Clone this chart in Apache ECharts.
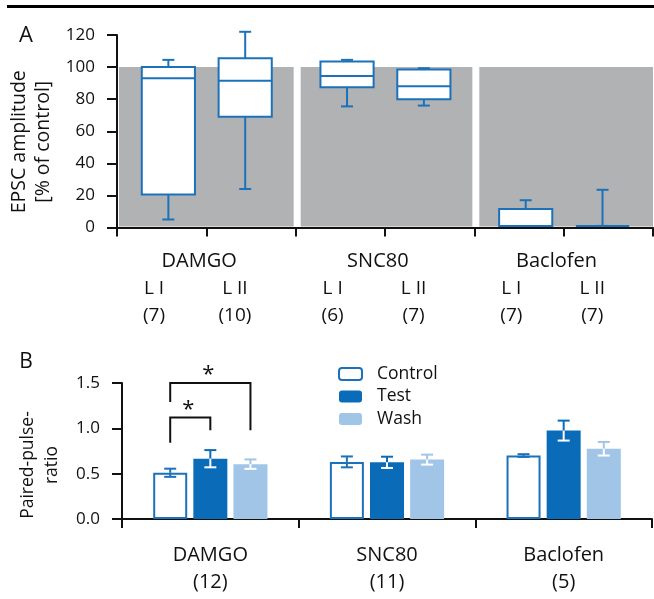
<!DOCTYPE html>
<html><head><meta charset="utf-8">
<script src="https://cdn.jsdelivr.net/npm/echarts@6/dist/echarts.min.js"></script>
<style>html,body{margin:0;padding:0;background:#fff}#c{width:654px;height:599px}</style>
</head><body><div id="c"></div>
<script>
// ---------------- data ----------------
// Panel A: EPSC amplitude (% of control), box plots
const groupsA = ['DAMGO', 'SNC80', 'Baclofen'];
const layersA = ['L I', 'L II'];
const countsA = [[7, 10], [6, 7], [7, 7]];
// [min, q1, median, q3, max]
const boxDAMGO = [[5, 20.5, 93, 100, 104.5], [24, 69, 91.5, 105.5, 122]];
const boxSNC80 = [[75.5, 87.5, 94.5, 103.5, 104.5], [76, 80, 88, 98.5, 99.3]];
const boxBaclofen = [[1, 1, 1, 11.5, 17], [1, 1, 1, 1, 23.5]];
const controlLevelA = 100;
const yTicksA = { min: 0, max: 120, interval: 20 };

// Panel B: paired-pulse ratio, mean +/- error
const groupsB = ['DAMGO', 'SNC80', 'Baclofen'];
const countsB = [12, 11, 5];
const conditionsB = ['Control', 'Test', 'Wash'];
const controlB = [0.51, 0.63, 0.70];
const controlErrB = [0.045, 0.06, 0.015];
const testB = [0.665, 0.625, 0.975];
const testErrB = [0.095, 0.062, 0.11];
const washB = [0.605, 0.655, 0.775];
const washErrB = [0.052, 0.055, 0.075];
// significance brackets: [group, fromCondition, toCondition, top, leftFoot, rightFoot]
const bracketsB = [[0, 0, 1, 1.12, 0.84, 0.98], [0, 0, 2, 1.5, 1.29, 0.98]];
const bracketMarksB = ['*', '*'];
const yTicksB = { min: 0, max: 1.5, interval: 0.5 };

// ---------------- style / layout ----------------
const FONT = 'Open Sans';
const INK = '#111';
const BLUE = '#1b72ba';
const TEST_C = '#0a6cb8';
const WASH_C = '#a0c5e6';
const GRAY = '#b1b2b4';
const boxOffsets = [0.575, 1.435];
const boxWidthU = 0.595;
const capHalf = 6;
const layerLabelOffsets = [0.414, 1.32];
const groupLabelOffset = 0.92;
const rowOffsetsA = [33.5, 61, 88];
const BAR_W = 34, BAR_GAP = 0.18;
const BAR_STEP = BAR_W * (1 + BAR_GAP);

const boxesA = [boxDAMGO, boxSNC80, boxBaclofen];
const boxData = [];
groupsA.forEach((g, gi) => layersA.forEach((l, li) => {
  boxData.push([gi * 2 + boxOffsets[li]].concat(boxesA[gi][li]));
}));
const bandData = groupsA.map((g, gi) => [gi * 2, gi * 2 + 2, controlLevelA]);
const labelItemsA = [];
groupsA.forEach((g, gi) => {
  labelItemsA.push({ x: gi * 2 + groupLabelOffset, row: 0, text: g, size: 20 });
  layersA.forEach((l, li) => {
    labelItemsA.push({ x: gi * 2 + layerLabelOffsets[li], row: 1, text: l, size: 19 });
    labelItemsA.push({ x: gi * 2 + layerLabelOffsets[li], row: 2, text: '(' + countsA[gi][li] + ')', size: 19 });
  });
});

const meansB = [controlB, testB, washB];
const errsB = [controlErrB, testErrB, washErrB];
const errUp = [BLUE, TEST_C, WASH_C];
const errDown = [BLUE, '#ffffff', '#ffffff'];
const errData = [];
conditionsB.forEach((c, s) => groupsB.forEach((g, gi) => errData.push([gi, s, meansB[s][gi], errsB[s][gi]])));

function line(x1, y1, x2, y2, color, w) {
  return { type: 'line', shape: { x1, y1, x2, y2 }, style: { stroke: color, lineWidth: w || 2 } };
}
function txt(x, y, text, size) {
  return { type: 'text', x, y, style: { text, fill: INK, fontSize: size, fontFamily: FONT, align: 'center', verticalAlign: 'middle' } };
}

const chart = echarts.init(document.getElementById('c'), null, { renderer: 'canvas' });
const axisLine = { show: true, lineStyle: { color: INK, width: 2 } };
const axisTick = (len) => ({ show: true, inside: false, length: len, lineStyle: { color: INK, width: 2 } });

chart.setOption({
  backgroundColor: '#fff',
  animation: false,
  textStyle: { fontFamily: FONT },
  graphic: [
    { type: 'rect', shape: { x: 7, y: 5, width: 647, height: 3 }, style: { fill: '#000' } },
    { type: 'text', x: 26, y: 36, style: { text: 'A', fontSize: 22, fontFamily: FONT, fill: INK, align: 'center', verticalAlign: 'middle' } },
    { type: 'text', x: 26, y: 362, style: { text: 'B', fontSize: 21, fontFamily: FONT, fill: INK, align: 'center', verticalAlign: 'middle' } }
  ],
  grid: [
    { left: 117, right: 1, top: 35, height: 192.5, containLabel: false, outerBoundsMode: 'none' },
    { left: 122, right: 2, top: 383, height: 136, containLabel: false, outerBoundsMode: 'none' }
  ],
  legend: {
    data: conditionsB, orient: 'vertical', left: 338, top: 365, padding: 0,
    itemWidth: 23, itemHeight: 12, itemGap: 4.5,
    textStyle: { fontSize: 17.5, fontFamily: FONT, color: INK, lineHeight: 18, padding: [0, 0, 0, 10] }
  },
  xAxis: [
    { gridIndex: 0, type: 'value', min: 0, max: 6, interval: 1, axisLine, axisTick: axisTick(9), axisLabel: { show: false }, splitLine: { show: false } },
    { gridIndex: 1, type: 'category', data: groupsB.map((g, i) => g + '\n(' + countsB[i] + ')'), axisLine, axisTick: axisTick(9),
      axisLabel: { color: INK, fontSize: 20, fontFamily: FONT, lineHeight: 27, margin: 23, interval: 0 }, splitLine: { show: false } }
  ],
  yAxis: [
    { gridIndex: 0, type: 'value', min: yTicksA.min, max: yTicksA.max, interval: yTicksA.interval, axisLine, axisTick: axisTick(10),
      axisLabel: { color: INK, fontSize: 17, fontFamily: FONT, margin: 22 }, splitLine: { show: false },
      name: 'EPSC amplitude\n[% of control]', nameLocation: 'middle', nameRotate: 90, nameGap: 54,
      nameTextStyle: { color: INK, fontSize: 19.5, fontFamily: FONT, lineHeight: 24, padding: [0, 21, 0, 0] } },
    { gridIndex: 1, type: 'value', min: yTicksB.min, max: yTicksB.max, interval: yTicksB.interval, axisLine, axisTick: axisTick(10),
      axisLabel: { color: INK, fontSize: 17, fontFamily: FONT, margin: 22, formatter: v => v.toFixed(1) }, splitLine: { show: false },
      name: 'Paired-pulse-\nratio', nameLocation: 'middle', nameRotate: 90, nameGap: 58,
      nameTextStyle: { color: INK, fontSize: 17.5, fontFamily: FONT, lineHeight: 24, padding: [0, 28, 0, 0] } }
  ],
  series: [
    { type: 'custom', name: 'band', xAxisIndex: 0, yAxisIndex: 0, encode: { x: [0, 1], y: 2 }, data: bandData, silent: true, z: 1,
      renderItem: (params, api) => {
        const gi = params.dataIndex;
        const p1 = api.coord([api.value(0), api.value(2)]);
        const p2 = api.coord([api.value(1), 0]);
        const l = p1[0] + (gi === 0 ? 2 : 5);
        const r = p2[0] - (gi === groupsA.length - 1 ? 0 : 2);
        return { type: 'rect', shape: { x: l, y: p1[1], width: r - l, height: p2[1] - 1 - p1[1] }, style: { fill: GRAY } };
      } },
    { type: 'custom', name: 'boxes', xAxisIndex: 0, yAxisIndex: 0, encode: { x: 0, y: [1, 2, 3, 4, 5] }, data: boxData, z: 3,
      renderItem: (params, api) => {
        const x = api.value(0);
        const y = [1, 2, 3, 4, 5].map(i => api.coord([x, api.value(i)])[1]);
        const cx = api.coord([x, 0])[0];
        const hw = api.size([boxWidthU, 0])[0] / 2;
        return { type: 'group', children: [
          line(cx, y[3], cx, y[4], BLUE), line(cx - capHalf, y[4], cx + capHalf, y[4], BLUE),
          line(cx, y[1], cx, y[0], BLUE), line(cx - capHalf, y[0], cx + capHalf, y[0], BLUE),
          { type: 'rect', shape: { x: cx - hw, y: y[3], width: hw * 2, height: y[1] - y[3] }, style: { fill: '#fff', stroke: BLUE, lineWidth: 2 } },
          line(cx - hw, y[2], cx + hw, y[2], BLUE)
        ] };
      } },
    { type: 'custom', name: 'labelsA', xAxisIndex: 0, yAxisIndex: 0, encode: { x: 0 }, data: labelItemsA.map(d => [d.x, d.row]), silent: true,
      renderItem: (params, api) => {
        const d = labelItemsA[params.dataIndex];
        const p = api.coord([d.x, 0]);
        return txt(p[0], p[1] + rowOffsetsA[d.row], d.text, d.size);
      } },
    { type: 'bar', name: 'Control', xAxisIndex: 1, yAxisIndex: 1, data: controlB, barWidth: BAR_W, barGap: (BAR_GAP * 100) + '%',
      itemStyle: { color: '#fff', borderColor: BLUE, borderWidth: 2 } },
    { type: 'bar', name: 'Test', xAxisIndex: 1, yAxisIndex: 1, data: testB, barWidth: BAR_W, barGap: (BAR_GAP * 100) + '%',
      itemStyle: { color: TEST_C } },
    { type: 'bar', name: 'Wash', xAxisIndex: 1, yAxisIndex: 1, data: washB, barWidth: BAR_W, barGap: (BAR_GAP * 100) + '%',
      itemStyle: { color: WASH_C } },
    { type: 'custom', name: 'errors', xAxisIndex: 1, yAxisIndex: 1, encode: { x: 0, y: 2 }, data: errData, z: 4, silent: true,
      renderItem: (params, api) => {
        const g = api.value(0), s = api.value(1), m = api.value(2), e = api.value(3);
        const pm = api.coord([g, m]);
        const cx = pm[0] + (s - 1) * BAR_STEP;
        const yT = api.coord([g, m + e])[1], yB = api.coord([g, m - e])[1];
        return { type: 'group', children: [
          line(cx, pm[1], cx, yT, errUp[s]), line(cx - capHalf, yT, cx + capHalf, yT, errUp[s]),
          line(cx, pm[1], cx, yB, errDown[s]), line(cx - capHalf, yB, cx + capHalf, yB, errDown[s])
        ] };
      } },
    { type: 'custom', name: 'brackets', xAxisIndex: 1, yAxisIndex: 1, encode: { x: 0, y: 3 }, data: bracketsB, z: 4, silent: true,
      renderItem: (params, api) => {
        const g = api.value(0), a = api.value(1), b = api.value(2);
        const top = api.coord([g, api.value(3)]);
        const xl = top[0] + (a - 1) * BAR_STEP, xr = top[0] + (b - 1) * BAR_STEP;
        const yl = api.coord([g, api.value(4)])[1], yr = api.coord([g, api.value(5)])[1];
        return { type: 'group', children: [
          { type: 'polyline', shape: { points: [[xl, yl], [xl, top[1]], [xr, top[1]], [xr, yr]] }, style: { stroke: INK, lineWidth: 2, fill: null } },
          txt((xl + xr) / 2 - 2, top[1] - 8, bracketMarksB[params.dataIndex], 22)
        ] };
      } }
  ]
});
</script></body></html>
